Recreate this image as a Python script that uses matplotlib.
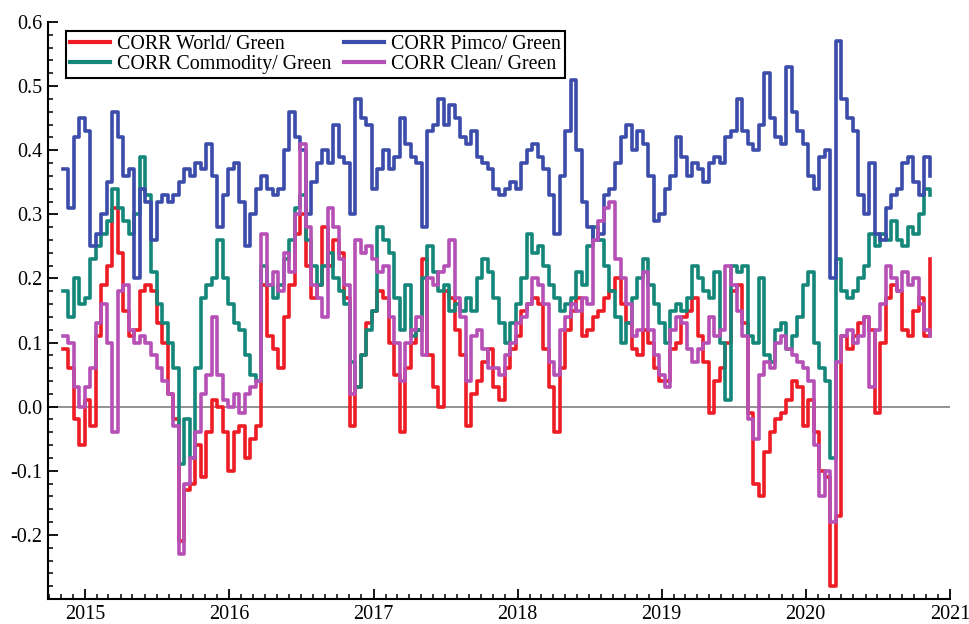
import matplotlib
matplotlib.use("Agg")
import matplotlib.pyplot as plt
import matplotlib.dates as mdates
import pandas as pd
import numpy as np

plt.rcParams['font.family'] = ['Liberation Serif', 'DejaVu Serif']
plt.rcParams['axes.unicode_minus'] = False

dates = pd.date_range('2014-11-05', periods=158, freq='14D')

world = [0.09, 0.06, -0.02, -0.06, 0.01, -0.03, 0.11, 0.19, 0.22, 0.31,
         0.24, 0.15, 0.11, 0.12, 0.18, 0.19, 0.18, 0.13, 0.10, 0.02,
         -0.02, -0.21, -0.13, -0.12, -0.06, -0.11, -0.04, 0.01, 0.00, -0.04,
         -0.10, -0.04, -0.03, -0.08, -0.05, -0.03, 0.19, 0.11, 0.09, 0.06,
         0.14, 0.19, 0.27, 0.30, 0.22, 0.17, 0.19, 0.28, 0.22, 0.26,
         0.24, 0.17, -0.03, 0.03, 0.08, 0.13, 0.15, 0.18, 0.17, 0.10,
         0.05, -0.04, 0.06, 0.10, 0.12, 0.23, 0.08, 0.03, 0.00, 0.18,
         0.17, 0.12, 0.08, -0.03, 0.02, 0.04, 0.07, 0.09, 0.03, 0.01,
         0.06, 0.09, 0.11, 0.15, 0.16, 0.17, 0.16, 0.09, 0.03, -0.04,
         0.06, 0.12, 0.15, 0.17, 0.11, 0.12, 0.14, 0.15, 0.17, 0.18,
         0.20, 0.16, 0.13, 0.09, 0.08, 0.12, 0.10, 0.06, 0.04, 0.04,
         0.09, 0.10, 0.14, 0.15, 0.17, 0.11, 0.07, -0.01, 0.04, 0.06,
         0.10, 0.18, 0.19, 0.13, -0.01, -0.12, -0.14, -0.07, -0.04, -0.02,
         -0.01, 0.01, 0.04, 0.03, -0.03, 0.01, -0.04, -0.10, -0.11, -0.28,
         -0.17, 0.11, 0.09, 0.11, 0.13, 0.14, 0.12, -0.01, 0.10, 0.17,
         0.19, 0.18, 0.12, 0.11, 0.15, 0.17, 0.11, 0.23]

commodity = [0.18, 0.14, 0.20, 0.16, 0.17, 0.23, 0.25, 0.27, 0.29, 0.34,
             0.31, 0.29, 0.27, 0.30, 0.39, 0.33, 0.21, 0.16, 0.13, 0.10,
             0.06, -0.09, -0.02, -0.08, 0.06, 0.17, 0.19, 0.20, 0.26, 0.20,
             0.16, 0.13, 0.12, 0.08, 0.05, 0.04, 0.22, 0.19, 0.17, 0.19,
             0.23, 0.26, 0.31, 0.33, 0.26, 0.22, 0.19, 0.22, 0.24, 0.20,
             0.18, 0.16, 0.07, 0.03, 0.08, 0.12, 0.15, 0.28, 0.26, 0.24,
             0.17, 0.12, 0.19, 0.11, 0.12, 0.20, 0.25, 0.21, 0.18, 0.19,
             0.15, 0.16, 0.15, 0.17, 0.15, 0.20, 0.23, 0.21, 0.17, 0.13,
             0.10, 0.13, 0.16, 0.20, 0.27, 0.24, 0.25, 0.22, 0.19, 0.17,
             0.15, 0.16, 0.17, 0.21, 0.19, 0.25, 0.28, 0.26, 0.22, 0.18,
             0.14, 0.10, 0.13, 0.17, 0.20, 0.23, 0.19, 0.16, 0.13, 0.10,
             0.15, 0.16, 0.15, 0.17, 0.22, 0.20, 0.18, 0.17, 0.21, 0.10,
             0.01, 0.22, 0.21, 0.22, 0.11, 0.10, 0.20, 0.08, 0.07, 0.12,
             0.13, 0.09, 0.11, 0.14, 0.19, 0.21, 0.10, 0.06, 0.04, -0.08,
             0.23, 0.18, 0.17, 0.18, 0.20, 0.22, 0.27, 0.25, 0.27, 0.26,
             0.29, 0.26, 0.25, 0.28, 0.27, 0.30, 0.34, 0.33]

pimco = [0.37, 0.31, 0.42, 0.45, 0.43, 0.25, 0.27, 0.30, 0.35, 0.46,
         0.42, 0.36, 0.37, 0.20, 0.34, 0.32, 0.26, 0.32, 0.33, 0.32,
         0.33, 0.35, 0.37, 0.36, 0.38, 0.37, 0.41, 0.36, 0.28, 0.33,
         0.37, 0.38, 0.32, 0.25, 0.30, 0.34, 0.36, 0.34, 0.33, 0.34,
         0.40, 0.46, 0.42, 0.40, 0.30, 0.35, 0.38, 0.40, 0.38, 0.44,
         0.39, 0.38, 0.30, 0.48, 0.45, 0.44, 0.34, 0.37, 0.40, 0.37,
         0.39, 0.45, 0.41, 0.39, 0.38, 0.28, 0.43, 0.44, 0.48, 0.44,
         0.47, 0.45, 0.42, 0.41, 0.43, 0.39, 0.38, 0.37, 0.34, 0.33,
         0.34, 0.35, 0.34, 0.38, 0.40, 0.41, 0.39, 0.37, 0.33, 0.27,
         0.36, 0.43, 0.51, 0.40, 0.32, 0.28, 0.26, 0.27, 0.33, 0.34,
         0.38, 0.42, 0.44, 0.40, 0.43, 0.41, 0.36, 0.29, 0.30, 0.34,
         0.36, 0.42, 0.39, 0.36, 0.38, 0.37, 0.35, 0.38, 0.39, 0.38,
         0.42, 0.43, 0.48, 0.43, 0.41, 0.40, 0.44, 0.52, 0.45, 0.42,
         0.41, 0.53, 0.46, 0.43, 0.41, 0.36, 0.34, 0.39, 0.40, 0.20,
         0.57, 0.48, 0.45, 0.43, 0.33, 0.30, 0.38, 0.27, 0.26, 0.31,
         0.33, 0.34, 0.38, 0.39, 0.35, 0.33, 0.39, 0.36]

clean = [0.11, 0.10, 0.03, 0.00, 0.03, 0.06, 0.13, 0.16, 0.10, -0.04,
         0.18, 0.19, 0.12, 0.10, 0.11, 0.10, 0.08, 0.06, 0.04, 0.02,
         -0.03, -0.23, -0.12, -0.08, -0.04, 0.02, 0.05, 0.14, 0.05, 0.01,
         0.00, 0.02, -0.01, 0.02, 0.03, 0.04, 0.27, 0.19, 0.21, 0.18,
         0.24, 0.21, 0.30, 0.41, 0.28, 0.19, 0.17, 0.14, 0.31, 0.28,
         0.23, 0.19, 0.02, 0.26, 0.24, 0.25, 0.23, 0.21, 0.22, 0.14,
         0.10, 0.04, 0.10, 0.12, 0.14, 0.08, 0.20, 0.19, 0.21, 0.22,
         0.26, 0.17, 0.14, 0.04, 0.11, 0.12, 0.09, 0.06, 0.06, 0.05,
         0.08, 0.10, 0.13, 0.14, 0.16, 0.20, 0.19, 0.16, 0.07, 0.05,
         0.12, 0.14, 0.16, 0.15, 0.17, 0.16, 0.26, 0.29, 0.31, 0.32,
         0.23, 0.20, 0.16, 0.11, 0.12, 0.21, 0.12, 0.08, 0.05, 0.03,
         0.12, 0.14, 0.13, 0.09, 0.07, 0.09, 0.10, 0.14, 0.11, 0.12,
         0.22, 0.19, 0.15, 0.11, -0.02, -0.05, 0.05, 0.07, 0.06, 0.10,
         0.11, 0.09, 0.08, 0.07, 0.06, 0.04, -0.06, -0.14, -0.10, -0.18,
         0.07, 0.11, 0.12, 0.10, 0.11, 0.14, 0.03, 0.12, 0.16, 0.22,
         0.20, 0.18, 0.21, 0.19, 0.20, 0.16, 0.12, 0.11]

labels = ['CORR World/ Green', 'CORR Commodity/ Green',
          'CORR Pimco/ Green', 'CORR Clean/ Green']
colors = ['#ee1c25', '#14877a', '#3c4cab', '#b650b6']
series = [world, commodity, pimco, clean]

fig = plt.figure(figsize=(9.7, 6.24), dpi=100)
ax = fig.add_axes([48/970, 1-599/624, (950-48)/970, (599-22)/624])

ax.axhline(0, color='#8a8a8a', lw=1.3, zorder=1)
handles = []
for i in range(4):
    h, = ax.plot(dates, series[i], color=colors[i], lw=2.6,
                 drawstyle='steps-post', label=labels[i], zorder=2+i)
    handles.append(h)

ax.set_xlim(pd.Timestamp('2014-09-29'), pd.Timestamp('2021-01-01'))
ax.set_ylim(-0.3, 0.6)
yt = np.round(np.arange(-0.2, 0.61, 0.1), 1)
ax.set_yticks(yt)
ax.set_yticklabels([f'{v:.1f}' for v in yt])
ax.yaxis.set_minor_locator(matplotlib.ticker.MultipleLocator(0.02))
ax.xaxis.set_major_locator(mdates.YearLocator())
ax.xaxis.set_major_formatter(mdates.DateFormatter('%Y'))
ax.xaxis.set_minor_locator(mdates.MonthLocator())

for s in ['top', 'right']:
    ax.spines[s].set_visible(False)
for s in ['left', 'bottom']:
    ax.spines[s].set_linewidth(1.5)
    ax.spines[s].set_color('black')
ax.tick_params(which='major', direction='in', length=7, width=1.3,
               labelsize=14.5, colors='black', pad=4)
ax.tick_params(which='minor', direction='in', length=3.5, width=1.1)

leg = ax.legend(handles, labels, ncol=2, loc='upper left',
                bbox_to_anchor=(66/970, 1-31/624), bbox_transform=fig.transFigure,
                borderaxespad=0, fontsize=14.4, frameon=True, fancybox=False,
                edgecolor='black', framealpha=1, handlelength=2.0,
                handletextpad=0.35, columnspacing=0.6, labelspacing=0.02,
                borderpad=0.22)
leg.get_frame().set_linewidth(1.5)
for line in leg.get_lines():
    line.set_linewidth(3)

fig.savefig('out.png', dpi=100)
